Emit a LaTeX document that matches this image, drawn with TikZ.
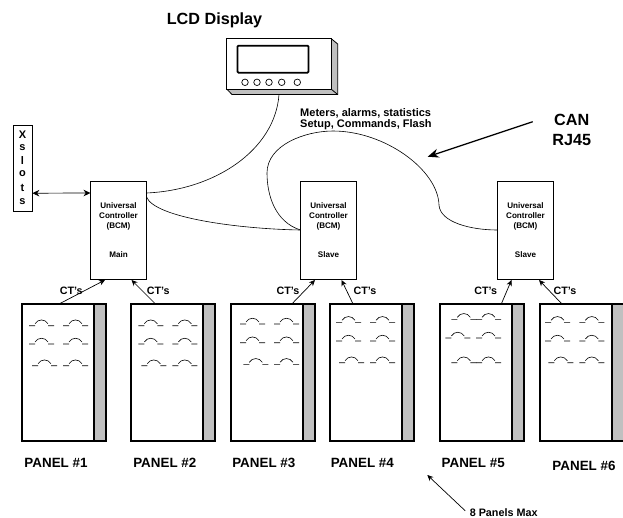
\documentclass[tikz,border=0pt]{standalone}
\usepackage{fontspec}
\setmainfont{Liberation Sans}
\usepackage{tikz}
\usetikzlibrary{positioning,arrows.meta,calc}

\newcommand{\brk}[2]{\draw[brkline,shift={(#1,#2)}] (0,0) -- (6,0) (6,-2) .. controls (9,-7) and (16,-7) .. (19,-2) (19,0) -- (25,0);}

\begin{document}
\begin{tikzpicture}[
  x=1pt, y=-1pt,
  ctrl/.style={draw, line width=0.9pt, minimum width=56pt, minimum height=98pt, inner sep=0pt, outer sep=0pt, align=center, font=\bfseries\fontsize{8.1}{10}\selectfont},
  panelbox/.style={draw, line width=2pt, minimum width=84pt, minimum height=137pt, inner sep=0pt, outer sep=0pt},
  panelbar/.style={draw, line width=2pt, fill=barfill},
  brkline/.style={line width=0.6pt},
  wire/.style={line width=0.6pt},
  ctarrow/.style={line width=0.7pt, -{Stealth[length=6pt,width=5.5pt]}},
  lb/.style={font=\bfseries\fontsize{10.7}{12}\selectfont},
  pn/.style={font=\bfseries\fontsize{13.4}{15}\selectfont},
  big/.style={font=\bfseries\fontsize{16.2}{20}\selectfont, align=center},
  slot/.style={font=\bfseries\fontsize{11}{12}\selectfont},
  btn/.style={draw, circle, line width=0.7pt, minimum size=6.5pt, inner sep=0pt},
]
\definecolor{barfill}{HTML}{C0C0C0}
\path[use as bounding box, clip] (0,0) rectangle (623,517);

% lcd unit
\node[big] (lcdtitle) at (214.5,20.7) {LCD Display};
\draw[line width=0.8pt, fill=barfill] (226.7,38.5) -- (331,38.5) -- (337.7,44) -- (337.7,94.5) -- (232,94.5) -- (226.7,89) -- cycle;
\node[draw, fill=white, line width=0.8pt, minimum width=104.3pt, minimum height=50.5pt, inner sep=0pt, outer sep=0pt] (lcd) at (278.85,63.75) {};
\draw[line width=0.8pt] (lcd.south east) -- (337.7,94.5);
\node[draw, rounded corners=1pt, line width=1.8pt, minimum width=71pt, minimum height=27pt, inner sep=0pt] (screen) at (273,59.2) {};
\node[btn] (b1) at (245,82.3) {};
\node[btn] (b2) at (257,82.3) {};
\node[btn] (b3) at (269,82.3) {};
\node[btn] (b4) at (281.7,82.3) {};
\node[btn] (b5) at (297.3,82.3) {};
\coordinate (lcdfoot) at (279,94.5);

% controllers
\node[ctrl] (main) at (118.5,230) {Universal\\Controller\\(BCM)\\[19pt]Main};
\node[ctrl] (slaveA) at (328.5,230) {Universal\\Controller\\(BCM)\\[19pt]Slave};
\node[ctrl] (slaveB) at (525.5,230) {Universal\\Controller\\(BCM)\\[19pt]Slave};

% x slots
\node[draw, line width=0.8pt, minimum width=18.5pt, minimum height=85.5pt, inner sep=0pt] (xslots) at (22.7,168.2) {};
\node[slot] (xa) at (22.5,135) {X};
\node[slot] (xb) at (22.5,148) {s};
\node[slot] (xc) at (22.5,161) {l};
\node[slot] (xd) at (22.5,174) {o};
\node[slot] (xe) at (22.5,188) {t};
\node[slot] (xf) at (22.5,202) {s};
\draw[line width=0.7pt, {Stealth[length=7pt,width=6.5pt]}-{Stealth[length=7pt,width=6.5pt]}] ($(xslots.east)+(0,25)$) -- ($(main.west)+(0,-37)$);

% wires
\draw[wire] ($(main.east)+(0,-37)$) .. controls (215,190) and (275,150) .. (lcdfoot);
\draw[wire] ($(main.east)+(0,-33)$) .. controls (155,218) and (240,229) .. (slaveA.west);
\draw[wire] (slaveA.west) .. controls (275,222) and (267,195) .. (267,173) .. controls (267,145) and (305,131) .. (333,131) .. controls (385,131) and (438,170) .. (439,205) .. controls (440,222) and (470,230) .. (slaveB.west);

% labels up top
\node[anchor=west, align=left, font=\bfseries\fontsize{11}{11}\selectfont] (meters) at (296.7,118.8) {Meters, alarms, statistics\\Setup, Commands, Flash};
\node[big] (can) at (571.7,130) {CAN\\RJ45};
\coordinate (cantip) at (427.7,156.7);
\draw[line width=1.3pt, -{Stealth[length=11pt,width=9pt]}] (532.7,121.7) -- (cantip);

% panels
\node[panelbox] (panelA) at (64,372) {};
\node[panelbox] (panelB) at (173,372) {};
\node[panelbox] (panelC) at (273.3,372) {};
\node[panelbox] (panelD) at (372.3,372) {};
\node[panelbox] (panelE) at (482,372) {};
\node[panelbox] (panelF) at (582,372) {};
\draw[panelbar] ($(panelA.north east)+(-12,0)$) rectangle (panelA.south east);
\draw[panelbar] ($(panelB.north east)+(-12,0)$) rectangle (panelB.south east);
\draw[panelbar] ($(panelC.north east)+(-12,0)$) rectangle (panelC.south east);
\draw[panelbar] ($(panelD.north east)+(-12,0)$) rectangle (panelD.south east);
\draw[panelbar] ($(panelE.north east)+(-12,0)$) rectangle (panelE.south east);
\draw[panelbar] ($(panelF.north east)+(-12,0)$) rectangle (panelF.south east);

% breakers
\brk{29}{325.7} \brk{63}{325.7} \brk{29}{344} \brk{63}{344} \brk{32}{365.7} \brk{63}{365.7}
\brk{138.3}{325.7} \brk{172.3}{325.7} \brk{138.3}{344} \brk{172.3}{344} \brk{141.3}{365.7} \brk{172.3}{365.7}
\brk{240}{324} \brk{274}{324} \brk{240}{342.7} \brk{274}{342.7} \brk{243.3}{364.3} \brk{274}{364.3}
\brk{336}{322.3} \brk{370}{322.3} \brk{336}{341} \brk{370}{341} \brk{339}{362.7} \brk{370}{362.7}
\brk{451.3}{319.3} \brk{476}{319.3} \brk{445.3}{338} \brk{476}{338} \brk{451.3}{362.7} \brk{476}{362.7}
\brk{545}{322.3} \brk{579.3}{322.3} \brk{545}{341} \brk{579.3}{341} \brk{548.3}{362.7} \brk{579.3}{362.7}

% ct arrows
\draw[ctarrow] ($(panelA.north west)+(38,0)$) -- ($(main.south west)+(14.5,1)$);
\draw[ctarrow] ($(panelB.north west)+(24,0)$) -- ($(main.south east)+(-15,1)$);
\draw[ctarrow] ($(panelC.north west)+(61,0)$) -- ($(slaveA.south west)+(14.5,1)$);
\draw[ctarrow] ($(panelD.north west)+(22.5,0)$) -- ($(slaveA.south east)+(-15,1)$);
\draw[ctarrow] ($(panelE.north west)+(61.5,0)$) -- ($(slaveB.south west)+(14,1)$);
\draw[ctarrow] ($(panelF.north west)+(21.5,0)$) -- ($(slaveB.south east)+(-14.5,1)$);
\node[lb] (ctA) at (71.3,291) {CT's};
\node[lb] (ctB) at (158.3,291) {CT's};
\node[lb] (ctC) at (288,291) {CT's};
\node[lb] (ctD) at (365,291) {CT's};
\node[lb] (ctE) at (485.7,291) {CT's};
\node[lb] (ctF) at (565,291) {CT's};

% panel names
\node[pn] (nameA) at (56,463.3) {PANEL \#1};
\node[pn] (nameB) at (164.8,463.3) {PANEL \#2};
\node[pn] (nameC) at (263.8,463.3) {PANEL \#3};
\node[pn] (nameD) at (362.3,463.3) {PANEL \#4};
\node[pn] (nameE) at (473.2,463.3) {PANEL \#5};
\node[pn] (nameF) at (584,466.3) {PANEL \#6};

% max note
\node[font=\bfseries\fontsize{10.8}{11}\selectfont] (maxnote) at (503.7,512.3) {8 Panels Max};
\coordinate (maxtip) at (427.3,475);
\draw[ctarrow] ($(maxnote.west)+(-1,-1.5)$) -- (maxtip);
\end{tikzpicture}
\end{document}
